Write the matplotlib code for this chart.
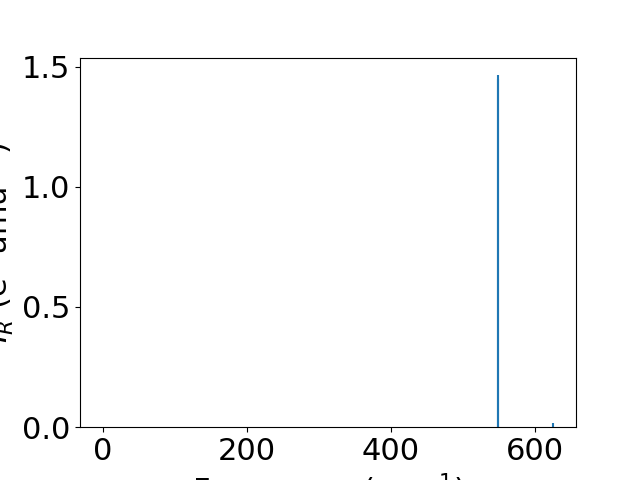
import numpy as np
import matplotlib
matplotlib.use("Agg")
import matplotlib.pyplot as plt

plt.rcParams['font.size'] = 22

# vibrational modes: frequency (cm^-1) and IR intensity
freqs = [0.0, 548.3, 549.0, 625.5]
intensities = [0.0, 1.450, 1.464, 0.017]

fig, ax = plt.subplots(figsize=(6.4, 4.8), dpi=100)
ax.vlines(freqs, 0, intensities, color='C0', linewidth=1.5)
ax.set_ylim(bottom=0)
ax.set_xlabel(r"Frequency (cm$^{-1}$)")
ax.set_ylabel(r"$I_R$ (e$^2$ amu$^{-1}$)")

fig.savefig("out.png")
